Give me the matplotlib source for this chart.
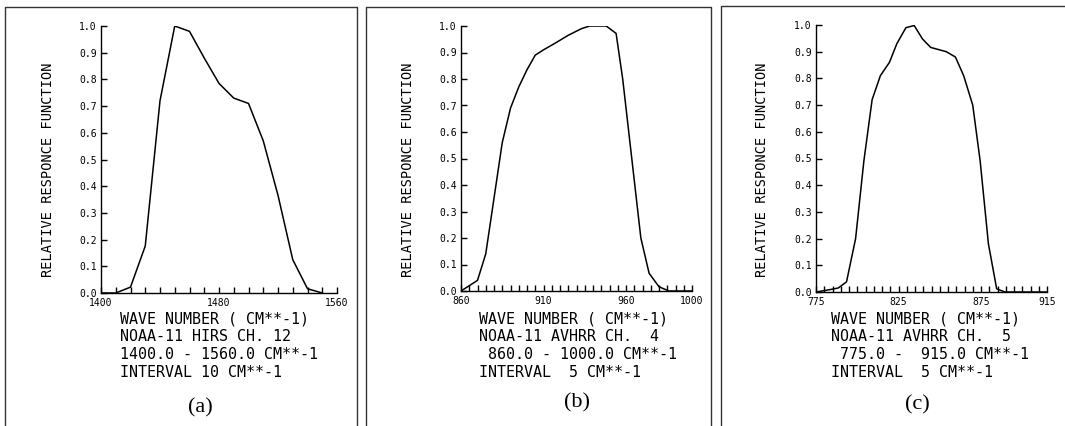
import matplotlib.pyplot as plt
import numpy as np

W, H = 1065, 426

# panel (a) NOAA-11 HIRS ch. 12
a_wn = [1400, 1410, 1420, 1430, 1440, 1450, 1460, 1470, 1480, 1490, 1500, 1510, 1520, 1530, 1540, 1550]
a_rsp = [0.0, 0.0, 0.022, 0.176, 0.72, 1.0, 0.98, 0.88, 0.785, 0.73, 0.71, 0.57, 0.366, 0.125, 0.016, 0.0]

# panel (b) NOAA-11 AVHRR ch. 4
b_wn = [860, 870, 875, 885, 890, 895, 900, 905, 910, 917, 925, 933, 938, 948, 954, 958, 969, 974, 980, 986, 1000]
b_rsp = [0.0, 0.04, 0.14, 0.56, 0.69, 0.77, 0.835, 0.89, 0.91, 0.935, 0.965, 0.99, 1.0, 1.0, 0.972, 0.80, 0.20, 0.067, 0.016, 0.0, 0.0]

# panel (c) NOAA-11 AVHRR ch. 5
c_wn = [775, 783.5, 788.5, 793.5, 799, 804, 809, 814, 819.5, 824, 829.5, 834.5, 839.5, 844.5, 854, 859.5,
        864.5, 870, 874.5, 879.5, 884.5, 889.5, 915]
c_rsp = [0.0, 0.009, 0.015, 0.038, 0.20, 0.49, 0.72, 0.81, 0.86, 0.93, 0.99, 0.998, 0.948, 0.916, 0.90, 0.88,
         0.81, 0.70, 0.49, 0.18, 0.012, 0.0, 0.0]

rows = [318.5, 336.5, 354.5, 372.5]

panels = [
    dict(wn=a_wn, rsp=a_rsp, lim=(1400, 1560), step=10, labels=[1400, 1480, 1560],
         box=(101, 26, 337, 293), ylab_x=48, text_x=120,
         lines=["WAVE NUMBER ( CM**-1)", "NOAA-11 HIRS CH. 12", "1400.0 - 1560.0 CM**-1", "INTERVAL 10 CM**-1"],
         tag="(a)", tag_xy=(200, 408), frame=(5, 7, 357)),
    dict(wn=b_wn, rsp=b_rsp, lim=(860, 1000), step=5, labels=[860, 910, 960, 1000],
         box=(461, 26, 692, 291), ylab_x=408, text_x=479,
         lines=["WAVE NUMBER ( CM**-1)", "NOAA-11 AVHRR CH.  4", " 860.0 - 1000.0 CM**-1", "INTERVAL  5 CM**-1"],
         tag="(b)", tag_xy=(577, 403), frame=(366, 7, 711)),
    dict(wn=c_wn, rsp=c_rsp, lim=(775, 915), step=5, labels=[775, 825, 875, 915],
         box=(816, 25, 1047, 292), ylab_x=762, text_x=831,
         lines=["WAVE NUMBER ( CM**-1)", "NOAA-11 AVHRR CH.  5", " 775.0 -  915.0 CM**-1", "INTERVAL  5 CM**-1"],
         tag="(c)", tag_xy=(917, 405), frame=(721, 6, 1066)),
]

mono = 'DejaVu Sans Mono'
fig = plt.figure(figsize=(W / 100, H / 100), dpi=100)

for p in panels:
    x0, y0, x1, y1 = p['box']
    ax = fig.add_axes([x0 / W, 1 - y1 / H, (x1 - x0) / W, (y1 - y0) / H])
    ax.plot(p['wn'], p['rsp'], color='black', lw=1.1)
    ax.set_xlim(*p['lim'])
    ax.set_ylim(0, 1.0)
    for s in ['top', 'right']:
        ax.spines[s].set_visible(False)
    for s in ['left', 'bottom']:
        ax.spines[s].set_linewidth(1.0)
    ax.set_xticks(p['labels'])
    ax.set_xticklabels([str(v) for v in p['labels']], fontfamily=mono, fontsize=7)
    ax.set_xticks(np.arange(p['lim'][0], p['lim'][1] + 1, p['step']), minor=True)
    ax.set_yticks(np.arange(0, 1.01, 0.1))
    ax.set_yticklabels(['%.1f' % v for v in np.arange(0, 1.01, 0.1)], fontfamily=mono, fontsize=7)
    ax.tick_params(axis='both', which='both', direction='in', length=4, width=1.0)
    ax.tick_params(axis='x', pad=3.8)
    ax.tick_params(axis='y', pad=3)

    fig.text(p['ylab_x'] / W, 1 - 170 / H, "RELATIVE RESPONCE FUNCTION", rotation=90,
             ha='center', va='center', fontfamily=mono, fontsize=9.8)
    for line, ty in zip(p['lines'], rows):
        fig.text(p['text_x'] / W, 1 - ty / H, line, ha='left', va='center', fontfamily=mono, fontsize=10.8)
    fig.text(p['tag_xy'][0] / W, 1 - p['tag_xy'][1] / H, p['tag'], ha='center', va='center',
             fontfamily='Liberation Serif', fontsize=16)

    fl, ft, fr = p['frame']
    fig.add_artist(plt.Line2D([fl / W, fl / W, fr / W, fr / W], [0, 1 - ft / H, 1 - ft / H, 0],
                              transform=fig.transFigure, color='#333333', lw=1.0))

fig.savefig('out.png', dpi=100)
